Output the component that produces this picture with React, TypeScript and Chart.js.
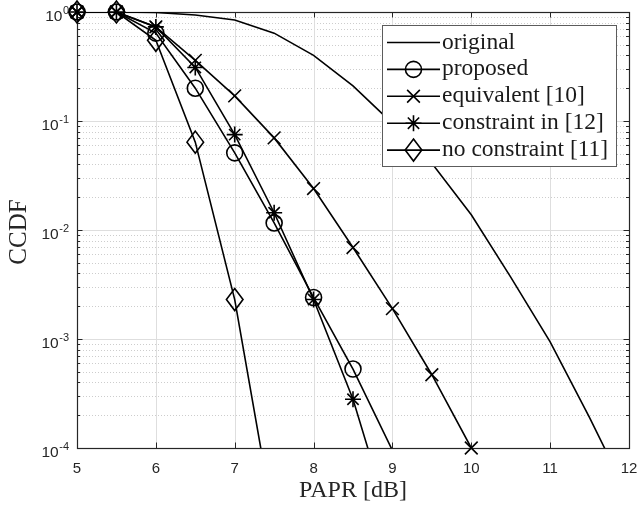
import React, { useEffect, useRef } from 'react';
import { Chart, registerables } from 'chart.js';

Chart.register(...registerables);

// ---------- data ----------
const PAPR_ORIGINAL = [5, 5.5, 6, 6.5, 7, 7.5, 8, 8.5, 9, 9.5, 10, 10.5, 11, 11.5, 12];
const ORIGINAL = [1, 1, 0.99, 0.94, 0.845, 0.64, 0.40, 0.21, 0.095, 0.041, 0.0138, 0.0037, 0.00094, 0.00019, 0.000035];

const PAPR_PROPOSED = [5, 5.5, 6, 6.5, 7, 7.5, 8, 8.5, 9];
const PROPOSED = [1, 1, 0.64, 0.2, 0.051, 0.0116, 0.0024, 0.00053, 0.000095];

const PAPR_EQUIVALENT = [5, 5.5, 6, 6.5, 7, 7.5, 8, 8.5, 9, 9.5, 10];
const EQUIVALENT = [1, 1, 0.73, 0.36, 0.17, 0.07, 0.024, 0.0069, 0.0019, 0.00047, 0.0001];

const PAPR_CONSTRAINT = [5, 5.5, 6, 6.5, 7, 7.5, 8, 8.5, 9];
const CONSTRAINT = [1, 1, 0.73, 0.31, 0.075, 0.0144, 0.0023, 0.00028, 0.000018];

const PAPR_NO_CONSTRAINT = [5, 5.5, 6, 6.5, 7, 7.5];
const NO_CONSTRAINT = [1, 1, 0.55, 0.064, 0.0023, 0.00002];

const LEGEND_LABELS = ['original', 'proposed', 'equivalent [10]', 'constraint in [12]', 'no constraint [11]'];
const X_TICKS = [5, 6, 7, 8, 9, 10, 11, 12];
const Y_DECADES = [0, -1, -2, -3, -4];
const X_LABEL = 'PAPR [dB]';
const Y_LABEL = 'CCDF';

// ---------- styling ----------
const AXIS_COLOR = '#262626';
const SANS = '"Liberation Sans", Arial, sans-serif';
const SERIF = '"Liberation Serif", "Times New Roman", serif';
const Y_MIN = 1e-4;
const LW = 1.6;

const toXY = (xs: number[], ys: number[]) => xs.map((x, i) => ({ x, y: ys[i] }));

function drawMarker(ctx: CanvasRenderingContext2D, kind: string, x: number, y: number) {
  ctx.save();
  ctx.strokeStyle = '#000';
  ctx.lineWidth = LW;
  ctx.beginPath();
  if (kind === 'circle') {
    ctx.arc(x, y, 8, 0, Math.PI * 2);
  } else if (kind === 'crossRot') {
    const d = 9 * Math.SQRT1_2;
    ctx.moveTo(x - d, y - d); ctx.lineTo(x + d, y + d);
    ctx.moveTo(x - d, y + d); ctx.lineTo(x + d, y - d);
  } else if (kind === 'star') {
    const r = 8;
    const d = r * Math.SQRT1_2;
    ctx.moveTo(x - r, y); ctx.lineTo(x + r, y);
    ctx.moveTo(x, y - r); ctx.lineTo(x, y + r);
    ctx.moveTo(x - d, y - d); ctx.lineTo(x + d, y + d);
    ctx.moveTo(x - d, y + d); ctx.lineTo(x + d, y - d);
  } else if (kind === 'diamond') {
    ctx.moveTo(x, y - 11);
    ctx.lineTo(x + 8.3, y);
    ctx.lineTo(x, y + 11);
    ctx.lineTo(x - 8.3, y);
    ctx.closePath();
  }
  ctx.stroke();
  ctx.restore();
}

export default function App() {
  const ref = useRef<HTMLCanvasElement>(null);

  useEffect(() => {
    const series = [
      { xs: PAPR_ORIGINAL, ys: ORIGINAL, marker: null as any, radius: 0, kind: 'none' },
      { xs: PAPR_PROPOSED, ys: PROPOSED, marker: 'circle', radius: 8, kind: 'circle' },
      { xs: PAPR_EQUIVALENT, ys: EQUIVALENT, marker: 'crossRot', radius: 9, kind: 'crossRot' },
      { xs: PAPR_CONSTRAINT, ys: CONSTRAINT, marker: 'star', radius: 8, kind: 'star' },
      { xs: PAPR_NO_CONSTRAINT, ys: NO_CONSTRAINT, marker: 'rectRot', radius: 0, kind: 'diamond' },
    ];

    const inRange = (c: any) => c.raw && c.raw.y >= Y_MIN * 0.999;
    const datasets: any[] = [];
    series.forEach((s, i) => {
      datasets.push({
        label: LEGEND_LABELS[i],
        data: toXY(s.xs, s.ys),
        borderColor: '#000',
        borderWidth: LW,
        pointRadius: 0,
        pointHoverRadius: 0,
        fill: false,
        tension: 0,
      });
      if (s.kind !== 'none') {
        datasets.push({
          label: LEGEND_LABELS[i] + ' markers',
          markerKind: s.kind,
          data: toXY(s.xs, s.ys),
          showLine: false,
          clip: false,
          pointStyle: s.marker,
          pointRadius: (c: any) => (inRange(c) ? s.radius : 0),
          pointHoverRadius: (c: any) => (inRange(c) ? s.radius : 0),
          pointBorderColor: '#000',
          pointBackgroundColor: 'rgba(0,0,0,0)',
          pointBorderWidth: LW,
          borderColor: '#000',
        });
      }
    });

    const decorations = {
      id: 'matlabDecorations',
      beforeDraw(chart: any) {
        const ctx = chart.ctx;
        ctx.save();
        ctx.fillStyle = '#fff';
        ctx.fillRect(0, 0, chart.width, chart.height);
        ctx.restore();
      },
      beforeDatasetsDraw(chart: any) {
        const ctx: CanvasRenderingContext2D = chart.ctx;
        const { left, right, top, bottom } = chart.chartArea;
        const xs = chart.scales.x;
        const ys = chart.scales.y;
        ctx.save();
        // minor dotted grid (log)
        ctx.strokeStyle = '#cdcdcd';
        ctx.lineWidth = 1;
        ctx.setLineDash([1, 2]);
        for (const e of Y_DECADES) {
          if (e === 0) continue;
          for (let m = 2; m <= 9; m++) {
            const y = Math.round(ys.getPixelForValue(m * Math.pow(10, e))) + 0.5;
            ctx.beginPath();
            ctx.moveTo(left, y);
            ctx.lineTo(right, y);
            ctx.stroke();
          }
        }
        ctx.setLineDash([]);
        // major grid
        ctx.strokeStyle = '#dedede';
        for (const t of X_TICKS) {
          const x = Math.round(xs.getPixelForValue(t)) + 0.5;
          ctx.beginPath();
          ctx.moveTo(x, top);
          ctx.lineTo(x, bottom);
          ctx.stroke();
        }
        for (const e of Y_DECADES) {
          const y = Math.round(ys.getPixelForValue(Math.pow(10, e))) + 0.5;
          ctx.beginPath();
          ctx.moveTo(left, y);
          ctx.lineTo(right, y);
          ctx.stroke();
        }
        // box
        ctx.strokeStyle = AXIS_COLOR;
        ctx.lineWidth = 1.2;
        ctx.strokeRect(Math.round(left) + 0.5, Math.round(top) + 0.5, Math.round(right - left), Math.round(bottom - top));
        // ticks
        ctx.lineWidth = 1;
        const tl = 5.5;
        const tm = 3;
        for (const t of X_TICKS) {
          const x = Math.round(xs.getPixelForValue(t)) + 0.5;
          ctx.beginPath();
          ctx.moveTo(x, bottom); ctx.lineTo(x, bottom - tl);
          ctx.moveTo(x, top); ctx.lineTo(x, top + tl);
          ctx.stroke();
        }
        for (const e of Y_DECADES) {
          const y0 = Math.round(ys.getPixelForValue(Math.pow(10, e))) + 0.5;
          ctx.beginPath();
          ctx.moveTo(left, y0); ctx.lineTo(left + tl, y0);
          ctx.moveTo(right, y0); ctx.lineTo(right - tl, y0);
          ctx.stroke();
          if (e === 0) continue;
          for (let m = 2; m <= 9; m++) {
            const y = Math.round(ys.getPixelForValue(m * Math.pow(10, e))) + 0.5;
            ctx.beginPath();
            ctx.moveTo(left, y); ctx.lineTo(left + tm, y);
            ctx.moveTo(right, y); ctx.lineTo(right - tm, y);
            ctx.stroke();
          }
        }
        ctx.restore();
      },
      afterDatasetsDraw(chart: any) {
        // diamonds drawn at the points positioned by the library's scales
        const ctx: CanvasRenderingContext2D = chart.ctx;
        chart.data.datasets.forEach((ds: any, i: number) => {
          if (ds.markerKind !== 'diamond') return;
          const meta = chart.getDatasetMeta(i);
          meta.data.forEach((pt: any, j: number) => {
            if (ds.data[j].y < Y_MIN * 0.999) return;
            drawMarker(ctx, 'diamond', pt.x, pt.y);
          });
        });
      },
      afterDraw(chart: any) {
        const ctx: CanvasRenderingContext2D = chart.ctx;
        const { left, right, bottom } = chart.chartArea;
        const xs = chart.scales.x;
        const ys = chart.scales.y;
        ctx.save();
        ctx.fillStyle = AXIS_COLOR;
        // x tick labels
        ctx.font = `15px ${SANS}`;
        ctx.textAlign = 'center';
        ctx.textBaseline = 'alphabetic';
        for (const t of X_TICKS) {
          ctx.fillText(String(t), xs.getPixelForValue(t), bottom + 25);
        }
        // y tick labels 10^e
        const rightEdge = left - 8;
        for (const e of Y_DECADES) {
          const y = ys.getPixelForValue(Math.pow(10, e));
          const sup = String(e);
          ctx.font = `11px ${SANS}`;
          ctx.textAlign = 'right';
          const supW = ctx.measureText(sup).width;
          ctx.fillText(sup, rightEdge, y + 1.5);
          ctx.font = `15.5px ${SANS}`;
          ctx.fillText('10', rightEdge - supW - 0.5, y + 9);
        }
        // axis titles
        ctx.font = `24px ${SERIF}`;
        ctx.textAlign = 'center';
        ctx.fillText(X_LABEL, (left + right) / 2, 497);
        ctx.save();
        ctx.translate(25.5, 232);
        ctx.rotate(-Math.PI / 2);
        ctx.font = `25px ${SERIF}`;
        ctx.fillText(Y_LABEL, 0, 0);
        ctx.restore();

        // legend
        const lx = 382, ly = 25, lw = 234, lh = 141;
        ctx.fillStyle = '#fff';
        ctx.fillRect(lx, ly, lw, lh);
        ctx.strokeStyle = '#5c5c5c';
        ctx.lineWidth = 1;
        ctx.strokeRect(lx + 0.5, ly + 0.5, lw, lh);
        ctx.font = `23.5px ${SERIF}`;
        ctx.textAlign = 'left';
        ctx.textBaseline = 'alphabetic';
        series.forEach((s, i) => {
          const cy = 42.5 + i * 26.9;
          ctx.strokeStyle = '#000';
          ctx.lineWidth = LW;
          ctx.beginPath();
          ctx.moveTo(387, cy);
          ctx.lineTo(440, cy);
          ctx.stroke();
          drawMarker(ctx, s.kind, 413.5, cy);
          ctx.fillStyle = '#1a1a1a';
          ctx.fillText(LEGEND_LABELS[i], 442, cy + 6);
        });
        ctx.restore();
      },
    };

    const chart = new Chart(ref.current!, {
      type: 'line',
      data: { datasets },
      options: {
        responsive: false,
        animation: false,
        events: [],
        layout: { padding: { left: 8, top: 12, right: 11, bottom: 0 } },
        plugins: { legend: { display: false }, tooltip: { enabled: false } },
        scales: {
          x: {
            type: 'linear',
            min: 5,
            max: 12,
            ticks: { display: false },
            grid: { display: false },
            border: { display: false },
            afterFit: (s: any) => { s.height = 57; },
          },
          y: {
            type: 'logarithmic',
            min: Y_MIN,
            max: 1,
            ticks: { display: false },
            grid: { display: false },
            border: { display: false },
            afterFit: (s: any) => { s.width = 69; },
          },
        },
      } as any,
      plugins: [decorations],
    });
    return () => chart.destroy();
  }, []);

  return (
    <canvas
      ref={ref}
      width={640}
      height={505}
      style={{ position: 'absolute', left: 0, top: 0, width: 640, height: 505 }}
    />
  );
}
